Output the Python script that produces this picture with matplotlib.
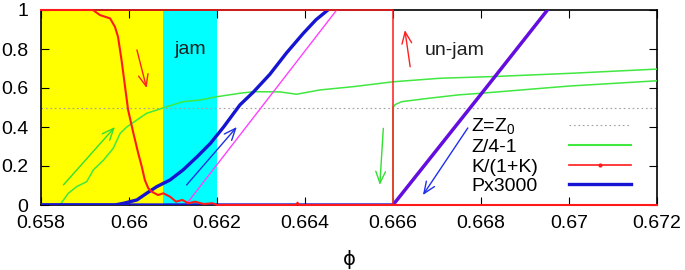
import numpy as np
import matplotlib
matplotlib.use("Agg")
import matplotlib.pyplot as plt
from matplotlib.lines import Line2D

plt.rcParams['font.family'] = ['Liberation Sans', 'DejaVu Sans']
plt.rcParams['mathtext.fontset'] = 'custom'
plt.rcParams['mathtext.rm'] = 'Liberation Sans'
plt.rcParams['font.size'] = 14

# K/(1+K), compression branch
phi_k_up = [0.658, 0.65918, 0.65934, 0.65957, 0.65968, 0.65975, 0.65983, 0.65991,
            0.65998, 0.66010, 0.66021, 0.66029, 0.66036, 0.66044, 0.66052, 0.66066,
            0.66078, 0.66093, 0.66107, 0.66121, 0.66135, 0.66150, 0.66170, 0.66190,
            0.66200, 0.6638, 0.66383, 0.66386, 0.672]
k_up = [1.0, 1.0, 0.974, 0.957, 0.914, 0.863, 0.744, 0.607,
        0.487, 0.368, 0.265, 0.197, 0.128, 0.085, 0.068, 0.051,
        0.06, 0.043, 0.017, 0.026, 0.009, 0.017, 0.005, 0.009,
        0.0, 0.0, 0.012, 0.0, 0.0]
# K/(1+K), decompression branch
phi_k_down = [0.672, 0.666, 0.666, 0.658]
k_down = [0.0, 0.0, 1.0, 1.0]

# Z/4-1
phi_z_up = [0.658, 0.65843, 0.65862, 0.65881, 0.65904, 0.65919, 0.65942, 0.65964,
            0.65980, 0.65995, 0.66018, 0.66040, 0.66063, 0.66086, 0.66123, 0.66161,
            0.66199, 0.66252, 0.66283, 0.66343, 0.66381, 0.66434, 0.66510, 0.66601,
            0.66707, 0.66832, 0.67010, 0.672]
z_up = [0.0, 0.0, 0.06, 0.094, 0.12, 0.18, 0.23, 0.29,
        0.368, 0.40, 0.436, 0.47, 0.487, 0.504, 0.53, 0.538,
        0.555, 0.573, 0.581, 0.58, 0.568, 0.59, 0.607, 0.632,
        0.65, 0.659, 0.676, 0.697]
phi_z_down = [0.672, 0.670, 0.668, 0.6675, 0.6668, 0.6662, 0.66605, 0.666, 0.666, 0.658]
z_down = [0.637, 0.61, 0.573, 0.565, 0.547, 0.53, 0.515, 0.5, 0.0, 0.0]

# Px3000
phi_p_up = [0.658, 0.65968, 0.65988, 0.66018, 0.66040, 0.66063, 0.66093, 0.66123,
            0.66155, 0.66185, 0.66215, 0.66252, 0.66283, 0.66320, 0.66358, 0.66396,
            0.66425, 0.66452]
p_up = [0.0, 0.0, 0.009, 0.026, 0.06, 0.094, 0.128, 0.18,
        0.248, 0.316, 0.40, 0.513, 0.58, 0.67, 0.78, 0.88,
        0.95, 1.0]
phi_p_down = [0.66951, 0.6682, 0.666, 0.666, 0.658]
p_down = [1.0, 0.625, 0.0, 0.0, 0.0]

# linear fits (thin magenta)
phi_fit_up = [0.66129, 0.66472]
fit_up = [0.0, 1.0]
phi_fit_down = [0.666, 0.66951]
fit_down = [0.0, 1.0]

yellow_span = (0.658, 0.66078)
cyan_span = (0.66078, 0.6620)

xticks = [0.658, 0.660, 0.662, 0.664, 0.666, 0.668, 0.670, 0.672]
xticklabels = ['0.658', '0.66', '0.662', '0.664', '0.666', '0.668', '0.67', '0.672']
yticks = [0, 0.2, 0.4, 0.6, 0.8, 1.0]
yticklabels = ['0', '0.2', '0.4', '0.6', '0.8', '1']

# arrows: (x_start, y_start, x_end, y_end, color)
arrows = [
    (0.65851, 0.103, 0.65968, 0.40, '#30e030'),
    (0.66131, 0.103, 0.66245, 0.40, '#2030e0'),
    (0.66018, 0.795, 0.66040, 0.60, '#ff2020'),
    (0.66639, 0.709, 0.66627, 0.897, '#ff2020'),
    (0.66578, 0.393, 0.66570, 0.103, '#30e030'),
    (0.66770, 0.395, 0.66668, 0.051, '#2030f0'),
]

red = '#ff1a1a'
green = '#40e840'
blue = '#1414d2'
magenta = '#ff40ff'

fig = plt.figure(figsize=(6.85, 2.70), dpi=100)
ax = fig.add_axes([41 / 685, 65 / 270, 616 / 685, 195 / 270])

ax.axvspan(*yellow_span, color='#ffff00', lw=0, zorder=0)
ax.axvspan(*cyan_span, color='#00ffff', lw=0, zorder=0)
ax.axhline(0.5, color='#a0a0a0', ls=(0, (1.5, 2.5)), lw=0.8, zorder=1)

ax.plot(phi_z_up, z_up, color=green, lw=1.1, zorder=3)
ax.plot(phi_z_down, z_down, color=green, lw=1.1, zorder=3)
ax.plot(phi_fit_up, fit_up, color=magenta, lw=1.0, zorder=3)
ax.plot(phi_p_up, p_up, color=blue, lw=2.4, zorder=4)
ax.plot(phi_p_down, p_down, color=blue, lw=2.4, zorder=4)
ax.plot(phi_fit_down, fit_down, color='#ff00ff', lw=2.4, alpha=0.35, zorder=5)
ax.plot(phi_k_up, k_up, color=red, lw=1.5, zorder=6, clip_on=False)
ax.plot(phi_k_down, k_down, color=red, lw=1.1, zorder=6, clip_on=False)

for x0, y0, x1, y1, c in arrows:
    ax.annotate('', xy=(x1, y1), xytext=(x0, y0),
                arrowprops=dict(arrowstyle='->,head_length=0.6,head_width=0.25',
                                color=c, lw=1.0, shrinkA=0, shrinkB=0), zorder=7)

ax.text(0.66139, 0.795, 'jam', ha='center', va='center', color='#202020')
ax.text(0.66673, 0.79, 'un-jam', ha='left', va='center', color='#202020')

ax.set_xlim(0.658, 0.672)
ax.set_ylim(0, 1)
ax.set_xticks(xticks)
ax.set_xticklabels(xticklabels)
ax.set_yticks(yticks)
ax.set_yticklabels(yticklabels)
ax.tick_params(direction='in', length=6, width=0.8, top=True, right=True)
ax.tick_params(axis='x', pad=7.5)
ax.tick_params(axis='y', pad=9)
for s in ax.spines.values():
    s.set_linewidth(1.2)
ax.set_xlabel('ϕ', labelpad=13, family='DejaVu Sans')

handles = [
    Line2D([], [], color='#a0a0a0', ls=(0, (1.5, 2.5)), lw=0.8),
    Line2D([], [], color=green, lw=1.5),
    Line2D([], [], color=red, lw=1.2, marker='o', markersize=2),
    Line2D([], [], color=blue, lw=2.4),
]
labels = ['Z=Z$_\\mathregular{0}$', 'Z/4-1', 'K/(1+K)', 'Px3000']
leg = ax.legend(handles, labels, loc='lower right', bbox_to_anchor=(0.974, 0.0),
                frameon=False, markerfirst=False, handlelength=3.2, handletextpad=1.6,
                borderpad=0, labelspacing=0.1, fontsize=14)

# gnuplot-style key: labels left-aligned, samples in one column on the right
fig.canvas.draw()
r = fig.canvas.get_renderer()
widths = [t.get_window_extent(r).width for t in leg.get_texts()]
rows = leg._legend_handle_box.get_children()[0].get_children()
for box, w in zip(rows, widths):
    box.sep += (max(widths) - w) * 72 / fig.dpi

fig.savefig('out.png', dpi=100)
